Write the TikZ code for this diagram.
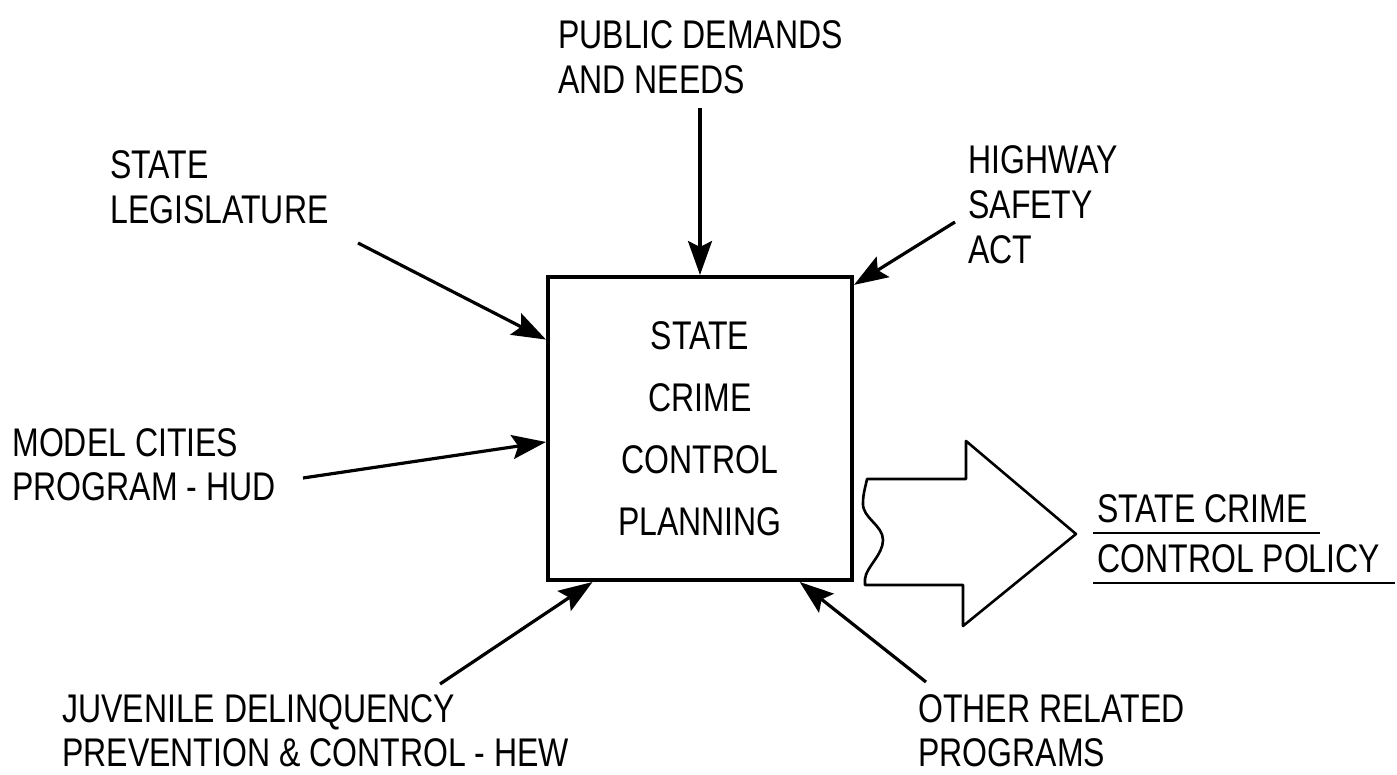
\documentclass[tikz,border=0pt]{standalone}
\usepackage{fontspec}
\setmainfont{Liberation Sans}[FakeStretch=0.8]
\usetikzlibrary{arrows.meta}
\tikzset{
  lbl/.style={anchor=north west,inner sep=0pt,align=left,
    font=\fontsize{20}{22}\selectfont},
  feed/.style={line width=1.6pt,-{Stealth[length=17pt,width=12pt,inset=3pt]}},
  planbox/.style={draw,line width=2pt,minimum width=152pt,minimum height=151.5pt,
    align=center,font=\fontsize{20}{31}\selectfont},
}
\begin{document}
\begin{tikzpicture}[x=0.5pt,y=-0.5pt]
  \useasboundingbox (0,0) rectangle (1397,775);
  \node[planbox](plan) at (700,428.5) {STATE\\CRIME\\CONTROL\\PLANNING};

  \node[lbl,font=\fontsize{20}{22.5}\selectfont](pub) at (558,20) {PUBLIC DEMANDS\\AND NEEDS};
  \node[lbl,font=\fontsize{20}{22.5}\selectfont](leg) at (110,150) {STATE\\LEGISLATURE};
  \node[lbl,font=\fontsize{20}{22.5}\selectfont](hwy) at (968,145) {HIGHWAY\\SAFETY\\ACT};
  \node[lbl](model) at (12,428) {MODEL CITIES\\PROGRAM - HUD};
  \node[lbl](juv) at (62,694) {JUVENILE DELINQUENCY\\PREVENTION \& CONTROL - HEW};
  \node[lbl](other) at (918,694) {OTHER RELATED\\PROGRAMS};
  \node[lbl](out1) at (1097,494) {STATE CRIME};
  \node[lbl](out2) at (1097,544) {CONTROL POLICY};

  \coordinate (pubS) at (700,108);
  \coordinate (legS) at (358,243);
  \coordinate (hwyS) at (955,222);
  \coordinate (modelS) at (303,478);
  \coordinate (juvS) at (440,684);
  \coordinate (otherS) at (926,682);

  \draw[feed] (pubS) -- (plan.north);
  \draw[feed] (legS) -- (plan.150);
  \draw[feed] (hwyS) -- (plan.43);
  \draw[feed] (modelS) -- (plan.185);
  \draw[feed] (juvS) -- (plan.235);
  \draw[feed] (otherS) -- (plan.303);

  % output arrow with torn tail
  \draw[line width=1.3pt,line join=round] (865,585) -- (963,585) -- (963,626) -- (1076,534)
    -- (966,441) -- (966,479) -- (867,479)
    .. controls (866,485) and (863,493) .. (863,503)
    .. controls (862,518) and (883,525) .. (883,540)
    .. controls (883,555) and (866,567) .. (865,579) -- cycle;

  \draw[line width=1.3pt] ([xshift=-2pt,yshift=-5pt]out1.south west) -- ([xshift=6pt,yshift=-5pt]out1.south east);
  \draw[line width=1.3pt] ([xshift=-2pt,yshift=-5pt]out2.south west) -- ([xshift=7pt,yshift=-5pt]out2.south east);
\end{tikzpicture}
\end{document}
